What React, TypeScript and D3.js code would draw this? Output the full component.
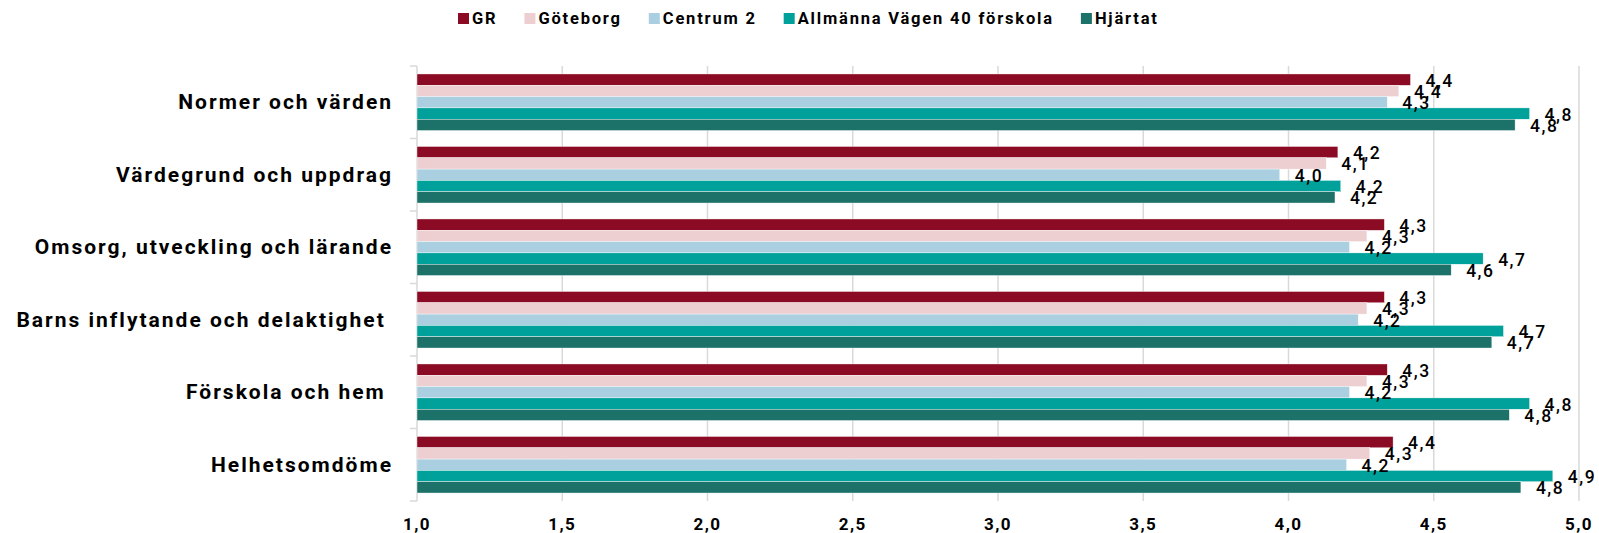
import React, { useRef, useEffect } from 'react';
import * as d3 from 'd3';

const categories = [
  'Normer och värden',
  'Värdegrund och uppdrag',
  'Omsorg, utveckling och lärande',
  'Barns inflytande och delaktighet ',
  'Förskola och hem ',
  'Helhetsomdöme',
];

const seriesNames = ['GR', 'Göteborg', 'Centrum 2', 'Allmänna Vägen 40 förskola', 'Hjärtat'];
const seriesColors = ['#8B0A24', '#EDCFD2', '#A9CFE0', '#00A19A', '#1C7268'];

const grValues = [4.42, 4.17, 4.33, 4.33, 4.34, 4.36];
const goteborgValues = [4.38, 4.13, 4.27, 4.27, 4.27, 4.28];
const centrumValues = [4.34, 3.97, 4.21, 4.24, 4.21, 4.2];
const allmannaValues = [4.83, 4.18, 4.67, 4.74, 4.83, 4.91];
const hjartatValues = [4.78, 4.16, 4.56, 4.7, 4.76, 4.8];

const xTicks = [1, 1.5, 2, 2.5, 3, 3.5, 4, 4.5, 5];

const allSeries = [grValues, goteborgValues, centrumValues, allmannaValues, hjartatValues];

const FONT = 'Roboto, "Liberation Sans", Arial, sans-serif';

const App = () => {
  const svgRef = useRef<SVGSVGElement>(null);

  useEffect(() => {
    const height = 533;
    const margin = { top: 66, bottom: 32, left: 417 };

    const svg = d3.select(svgRef.current);
    svg.selectAll('*').remove();

    const locale = d3.formatLocale({ decimal: ',', thousands: ' ', grouping: [3], currency: ['', ' kr'] });
    const fmt = locale.format('.1f');

    const x = d3.scaleLinear().domain([1, 5]).range([margin.left, 1579]);
    const y = d3.scaleBand<string>()
      .domain(categories)
      .range([margin.top, height - margin.bottom])
      .paddingInner(0.22)
      .paddingOuter(0.11);
    const ySub = d3.scaleBand<number>()
      .domain(d3.range(seriesNames.length))
      .range([0, y.bandwidth()]);

    const plotTop = margin.top;
    const plotBottom = height - margin.bottom;

    // gridlines
    svg.append('g')
      .selectAll('line')
      .data(xTicks.slice(1))
      .enter()
      .append('line')
      .attr('x1', d => x(d))
      .attr('x2', d => x(d))
      .attr('y1', plotTop)
      .attr('y2', plotBottom)
      .attr('stroke', '#d9d9d9')
      .attr('stroke-width', 1.5);

    // left axis line + ticks at band boundaries
    svg.append('line')
      .attr('x1', x(1))
      .attr('x2', x(1))
      .attr('y1', plotTop)
      .attr('y2', plotBottom)
      .attr('stroke', '#d9d9d9')
      .attr('stroke-width', 1.5);

    const step = y.step();
    const boundaries = d3.range(categories.length + 1).map(i => plotTop + i * step);
    svg.append('g')
      .selectAll('line')
      .data(boundaries)
      .enter()
      .append('line')
      .attr('x1', x(1) - 7)
      .attr('x2', x(1))
      .attr('y1', d => d)
      .attr('y2', d => d)
      .attr('stroke', '#d9d9d9')
      .attr('stroke-width', 1.5);

    // bars
    const groups = svg.append('g')
      .selectAll('g')
      .data(categories)
      .enter()
      .append('g')
      .attr('transform', d => `translate(0,${y(d)})`);

    groups.each(function (_cat, ci) {
      const g = d3.select(this);
      allSeries.forEach((vals, si) => {
        g.append('rect')
          .attr('x', x(1))
          .attr('y', ySub(si)!)
          .attr('width', x(vals[ci]) - x(1))
          .attr('height', ySub.bandwidth())
          .attr('fill', seriesColors[si])
          .attr('stroke', '#ffffff')
          .attr('stroke-width', 0.4);
      });
    });

    // value labels
    groups.each(function (_cat, ci) {
      const g = d3.select(this);
      allSeries.forEach((vals, si) => {
        g.append('text')
          .attr('x', x(vals[ci]) + 15)
          .attr('y', ySub(si)! + ySub.bandwidth() / 2 + 1)
          .attr('dominant-baseline', 'central')
          .attr('font-family', FONT)
          .attr('font-weight', 500)
          .attr('font-size', 17.5)
          .attr('letter-spacing', 1.5)
          .attr('fill', '#000')
          .text(fmt(vals[ci]));
      });
    });

    // category labels
    svg.append('g')
      .selectAll('text')
      .data(categories)
      .enter()
      .append('text')
      .attr('x', 393)
      .attr('y', d => y(d)! + y.bandwidth() / 2)
      .attr('text-anchor', 'end')
      .attr('dominant-baseline', 'central')
      .attr('font-family', FONT)
      .attr('font-weight', 700)
      .attr('font-size', 21)
      .attr('letter-spacing', 2)
      .style('white-space', 'pre')
      .text(d => d);

    // x tick labels
    svg.append('g')
      .selectAll('text')
      .data(xTicks)
      .enter()
      .append('text')
      .attr('x', d => x(d))
      .attr('y', 524)
      .attr('text-anchor', 'middle')
      .attr('dominant-baseline', 'central')
      .attr('font-family', FONT)
      .attr('font-weight', 700)
      .attr('font-size', 17)
      .attr('letter-spacing', 1.4)
      .text(d => fmt(d));

    // legend, laid out from measured text widths
    const legend = svg.append('g');
    let lx = 458;
    seriesNames.forEach((name, i) => {
      legend.append('rect')
        .attr('x', lx)
        .attr('y', 13)
        .attr('width', 11)
        .attr('height', 11)
        .attr('fill', seriesColors[i]);
      const t = legend.append('text')
        .attr('x', lx + 14)
        .attr('y', 24)
        .attr('font-family', FONT)
        .attr('font-weight', 700)
        .attr('font-size', 16.5)
        .attr('letter-spacing', 1.8)
        .text(name);
      const w = (t.node() as SVGTextElement).getComputedTextLength();
      lx += 14 + w + 27;
    });
  }, []);

  return (
    <svg
      ref={svgRef}
      width={1599}
      height={533}
      style={{ position: 'absolute', left: 0, top: 0, display: 'block', background: '#fff' }}
    ></svg>
  );
};

export default App;
